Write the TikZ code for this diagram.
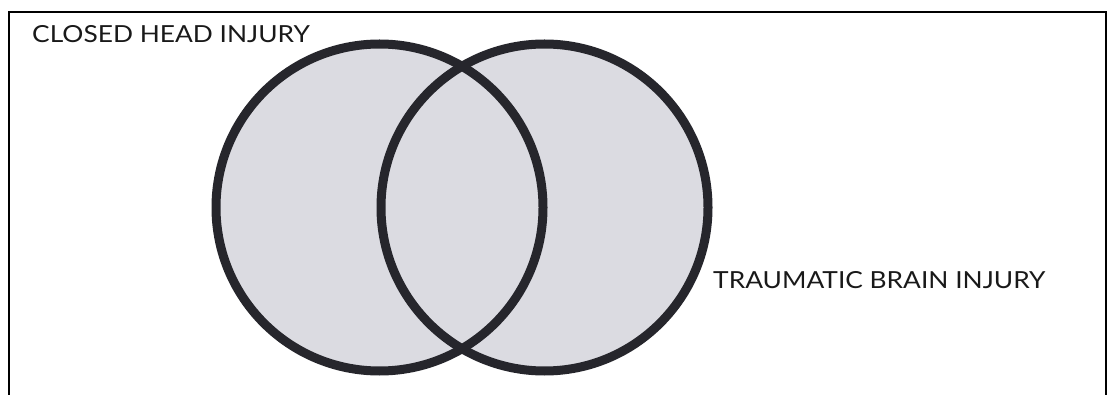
\documentclass[tikz,border=0pt]{standalone}
\usepackage{fontspec}
\setmainfont{Lato}
\usepackage{xcolor}
\definecolor{vennfill}{RGB}{219,219,225}
\definecolor{vennline}{RGB}{38,38,44}
\begin{document}
\begin{tikzpicture}[x=1pt,y=-1pt,
  venn/.style={circle,fill=vennfill,inner sep=0pt,outer sep=0pt,minimum size=327pt},
  ring/.style={vennline,line width=9pt},
  lbl/.style={anchor=base west,inner sep=0pt,text=black!90,xscale=1.12,transform shape,
    font=\fontsize{23.5}{27}\selectfont}]
  \useasboundingbox (0,0) rectangle (1108,395);
  % frame, open at the bottom
  \draw[line width=2.6pt] (9,395) -- (9,12) -- (1106,12) -- (1106,395);
  % the two sets
  \node[venn] (chi) at (379.5,207.5) {};
  \node[venn] (tbi) at (544.5,207.5) {};
  \draw[ring] (chi.center) circle (163.5);
  \draw[ring] (tbi.center) circle (163.5);
  % set names
  \node[lbl] (chilbl) at (32,43) {CLOSED HEAD INJURY};
  \node[lbl] (tbilbl) at (713,288) {TRAUMATIC BRAIN INJURY};
\end{tikzpicture}
\end{document}
